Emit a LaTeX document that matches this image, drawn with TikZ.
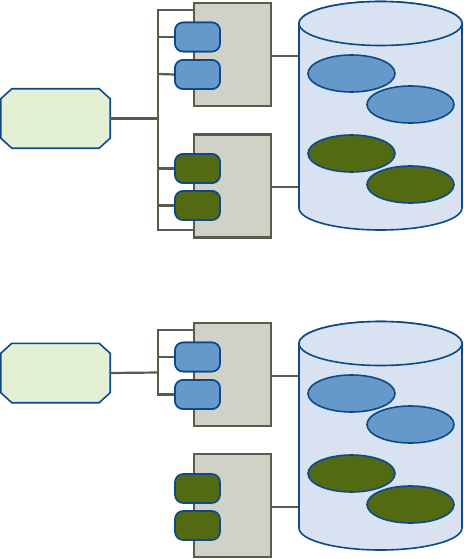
\documentclass[tikz,border=0pt]{standalone}
\usetikzlibrary{calc}
\definecolor{octfill}{HTML}{E4F0D4}
\definecolor{dblue}{HTML}{0B4A8A}
\definecolor{pillblue}{HTML}{6699C9}
\definecolor{pillgreen}{HTML}{536A13}
\definecolor{boxfill}{HTML}{D0D2C8}
\definecolor{boxline}{HTML}{5A5B48}
\definecolor{cylfill}{HTML}{D8E2F0}
\tikzset{
  octbase/.style={minimum width=109pt, minimum height=59pt, inner sep=0pt},
  octline/.style={draw=dblue, fill=octfill, line width=1.6pt, line join=miter},
  grbox/.style={draw=boxline, fill=boxfill, line width=2.2pt, minimum width=77pt, minimum height=103pt, inner sep=0pt},
  pill/.style={draw=dblue, line width=1.6pt, rounded corners=8pt, minimum width=45pt, minimum height=29pt, inner sep=0pt},
  bpill/.style={pill, fill=pillblue},
  gpill/.style={pill, fill=pillgreen},
  wire/.style={draw=boxline, line width=2.2pt},
  cyl/.style={draw=dblue, fill=cylfill, line width=1.6pt},
  blob/.style={draw=dblue, line width=1.6pt},
}
\begin{document}
\begin{tikzpicture}[x=1pt,y=-1pt]
\useasboundingbox (0,0) rectangle (463,559);
% ---------- top section ----------
\node[octbase] (o1) at (55.5,118.5) {};
\draw[octline] ($(o1.north west)+(11,0)$) -- ($(o1.north east)+(-11,0)$) -- ($(o1.north east)+(0,10)$)
  -- ($(o1.south east)+(0,-10)$) -- ($(o1.south east)+(-11,0)$) -- ($(o1.south west)+(11,0)$)
  -- ($(o1.south west)+(0,-10)$) -- ($(o1.north west)+(0,10)$) -- cycle;
\node[grbox] (b1) at (232.5,54.5) {};
\node[grbox] (b2) at (232.5,186) {};
\coordinate (t1) at (158,10);
\coordinate (t2) at (158,37);
\coordinate (t3) at (158,74);
\coordinate (tm) at (158,118.5);
\coordinate (t4) at (158,168.5);
\coordinate (t5) at (158,205.5);
\coordinate (t6) at (158,230);
\node[bpill] (p1) at (197.5,37) {};
\node[bpill] (p2) at (197.5,74.5) {};
\node[gpill] (p3) at (197.5,168.5) {};
\node[gpill] (p4) at (197.5,205.5) {};
\draw[wire] (o1.east) -- (tm);
\draw[wire] (b1.west |- t1) -- (t1) -- (t6) -- (b2.west |- t6);
\draw[wire] (t2) -- (p1.west);
\draw[wire] (t3) -- (p2.west);
\draw[wire] (t4) -- (p3.west);
\draw[wire] (t5) -- (p4.west);
\node[bpill] at (p1) {};
\node[bpill] at (p2) {};
\node[gpill] at (p3) {};
\node[gpill] at (p4) {};
% cylinder 1
\coordinate (c1a) at (299,56);
\coordinate (c1b) at (299,187);
\draw[wire] (b1.east |- c1a) -- (c1a);
\draw[wire] (b2.east |- c1b) -- (c1b);
\path[cyl] (299,23.5) -- (299,208) arc[start angle=180,end angle=0,x radius=81.5,y radius=22]
  -- (462,23.5) arc[start angle=0,end angle=-180,x radius=81.5,y radius=22] -- cycle;
\draw[cyl] (380.5,23.5) ellipse[x radius=81.5,y radius=22];
\draw[blob, fill=pillblue] (351.5,73.5) ellipse[x radius=43.5,y radius=18.5];
\draw[blob, fill=pillblue] (410.5,104.5) ellipse[x radius=43.5,y radius=18.5];
\draw[blob, fill=pillgreen] (351.5,153.5) ellipse[x radius=43.5,y radius=18.5];
\draw[blob, fill=pillgreen] (410.5,184.5) ellipse[x radius=43.5,y radius=18.5];
% ---------- bottom section ----------
\node[octbase] (o2) at (55.5,373) {};
\draw[octline] ($(o2.north west)+(11,0)$) -- ($(o2.north east)+(-11,0)$) -- ($(o2.north east)+(0,10)$)
  -- ($(o2.south east)+(0,-10)$) -- ($(o2.south east)+(-11,0)$) -- ($(o2.south west)+(11,0)$)
  -- ($(o2.south west)+(0,-10)$) -- ($(o2.north west)+(0,10)$) -- cycle;
\node[grbox] (b3) at (232.5,374.5) {};
\node[grbox] (b4) at (232.5,505.5) {};
\coordinate (u1) at (158,330);
\coordinate (u2) at (158,357);
\coordinate (um) at (158,372.5);
\coordinate (u3) at (158,394.5);
\node[bpill] (p5) at (197.5,357) {};
\node[bpill] (p6) at (197.5,394.5) {};
\node[gpill] (p7) at (197.5,488.5) {};
\node[gpill] (p8) at (197.5,525.5) {};
\draw[wire] (o2.east) -- (um);
\draw[wire] (b3.west |- u1) -- (u1) -- (u3) -- (p6.west);
\draw[wire] (u2) -- (p5.west);
\node[bpill] at (p5) {};
\node[bpill] at (p6) {};
% cylinder 2
\coordinate (c2a) at (299,376);
\coordinate (c2b) at (299,507);
\draw[wire] (b3.east |- c2a) -- (c2a);
\draw[wire] (b4.east |- c2b) -- (c2b);
\path[cyl] (299,343.5) -- (299,528) arc[start angle=180,end angle=0,x radius=81.5,y radius=22]
  -- (462,343.5) arc[start angle=0,end angle=-180,x radius=81.5,y radius=22] -- cycle;
\draw[cyl] (380.5,343.5) ellipse[x radius=81.5,y radius=22];
\draw[blob, fill=pillblue] (351.5,393.5) ellipse[x radius=43.5,y radius=18.5];
\draw[blob, fill=pillblue] (410.5,424.5) ellipse[x radius=43.5,y radius=18.5];
\draw[blob, fill=pillgreen] (351.5,473.5) ellipse[x radius=43.5,y radius=18.5];
\draw[blob, fill=pillgreen] (410.5,504.5) ellipse[x radius=43.5,y radius=18.5];
\end{tikzpicture}
\end{document}
